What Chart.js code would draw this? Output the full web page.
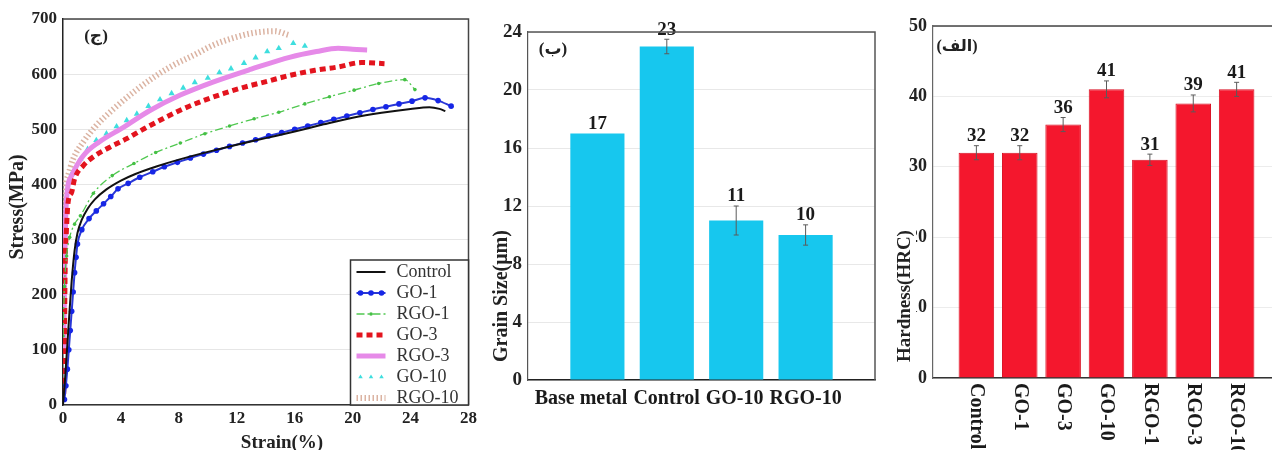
<!DOCTYPE html>
<html>
<head>
<meta charset="utf-8">
<script src="https://cdn.jsdelivr.net/npm/chart.js@4.4.1/dist/chart.umd.min.js"></script>
<style>
  html, body { margin: 0; padding: 0; background: #fff; }
  #wrap { position: relative; width: 1272px; height: 450px; overflow: hidden; background: #fff; }
  .panel { position: absolute; top: 0; height: 450px; overflow: hidden; }
  canvas { display: block; }
</style>
</head>
<body>
<div id="wrap">
  <div class="panel" style="left:0;width:480px"><canvas id="stress" width="480" height="460"></canvas></div>
  <div class="panel" style="left:480px;width:400px"><canvas id="grain" width="400" height="460"></canvas></div>
  <div class="panel" style="left:880px;width:392px"><canvas id="hard" width="410" height="460"></canvas></div>
</div>
<script>
// ---------- (ج) stress–strain curves ----------
const seriesNames = ['Control', 'GO-1', 'RGO-1', 'GO-3', 'RGO-3', 'GO-10', 'RGO-10'];

const controlStrain = [0, 0.15, 0.3, 0.45, 0.6, 0.8, 1.0, 1.3, 1.7, 2.2, 3.0, 4.0, 5.0, 6.5, 8.0, 10.0, 12.0, 14.0, 16.0, 18.0, 20.0, 22.0, 24.0, 25.3, 26.0, 26.4];
const controlStress = [0, 50, 110, 170, 225, 280, 312, 336, 356, 373, 391, 407, 419, 433, 445, 459, 472, 484, 496, 509, 521, 530, 537, 540, 537, 533];

const go1Strain = [0.1, 0.2, 0.3, 0.4, 0.5, 0.6, 0.7, 0.8, 0.9, 1.0, 1.3, 1.8, 2.3, 2.8, 3.3, 3.8, 4.5, 5.3, 6.2, 7.0, 7.9, 8.8, 9.7, 10.6, 11.5, 12.4, 13.3, 14.2, 15.1, 16.0, 16.9, 17.8, 18.7, 19.6, 20.5, 21.4, 22.3, 23.2, 24.1, 25.0, 25.9, 26.8];
const go1Stress = [10, 35, 65, 100, 135, 170, 205, 240, 268, 292, 318, 338, 352, 365, 378, 392, 402, 413, 423, 432, 440, 448, 455, 462, 469, 475, 481, 488, 494, 500, 506, 512, 518, 524, 530, 536, 541, 546, 551, 557, 552, 542];

const rgo1Strain = [0, 0.1, 0.25, 0.46, 0.8, 1.2, 2.1, 3.4, 4.9, 6.4, 8.1, 9.8, 11.5, 13.2, 14.9, 16.7, 18.4, 20.1, 21.8, 23.6, 24.3];
const rgo1Stress = [125, 215, 270, 304, 328, 343, 384, 416, 438, 458, 475, 492, 506, 519, 531, 546, 559, 571, 583, 590, 572];

const go3Strain = [0.05, 0.1, 0.15, 0.23, 0.35, 0.6, 0.8, 1.4, 2.2, 3.2, 4.4, 5.6, 6.9, 8.3, 9.7, 11.1, 12.6, 14.1, 15.7, 17.4, 19.0, 20.6, 22.2];
const go3Stress = [20, 120, 252, 313, 367, 386, 410, 434, 452, 467, 483, 501, 519, 537, 552, 565, 577, 587, 598, 607, 613, 621, 619];

const rgo3Strain = [0.05, 0.12, 0.23, 0.6, 1.4, 2.5, 4.2, 6.0, 8.1, 10.4, 13.0, 15.7, 17.5, 19.0, 20.0, 21.0];
const rgo3Stress = [100, 250, 367, 416, 452, 477, 504, 534, 562, 586, 609, 631, 641, 647, 645, 644];

const go10Strain = [0.03, 0.05, 0.07, 0.15, 0.35, 0.6, 1.2, 1.7, 2.3, 3.0, 3.7, 4.4, 5.1, 5.9, 6.7, 7.5, 8.3, 9.1, 10.0, 10.8, 11.6, 12.5, 13.3, 14.1, 14.9, 15.9, 16.7];
const go10Stress = [60, 120, 191, 313, 386, 419, 446, 464, 480, 492, 505, 516, 528, 542, 554, 565, 575, 585, 593, 603, 610, 620, 630, 641, 647, 656, 651];

const rgo10Strain = [0.02, 0.06, 0.12, 0.35, 0.7, 1.4, 2.3, 3.5, 4.9, 6.3, 7.6, 9.0, 10.4, 11.8, 13.2, 14.6, 15.6];
const rgo10Stress = [150, 280, 373, 416, 446, 477, 507, 537, 568, 595, 616, 634, 653, 666, 675, 678, 671];

// ---------- (ب) grain size ----------
const grainCategories = ['Base metal', 'Control', 'GO-10', 'RGO-10'];
const grainSize = [17, 23, 11, 10];
const grainError = [0, 0.5, 1.0, 0.7];

// ---------- (الف) hardness ----------
const hardnessCategories = ['Control', 'GO-1', 'GO-3', 'GO-10', 'RGO-1', 'RGO-3', 'RGO-10'];
const hardness = [32, 32, 36, 41, 31, 39, 41];
const hardnessError = [1.0, 1.0, 1.0, 1.2, 0.8, 1.2, 1.0];

// ---------- shared helpers ----------
const SERIF = '"Liberation Serif", "Times New Roman", "DejaVu Sans", serif';
Chart.defaults.font.family = SERIF;
Chart.defaults.color = '#222';

const pts = (xs, ys) => xs.map((x, i) => ({ x, y: ys[i] }));

function drawMark(ctx, style, x, y, r, color) {
  ctx.fillStyle = color;
  ctx.beginPath();
  if (style === 'triangle') {
    ctx.moveTo(x, y - r);
    ctx.lineTo(x + r * 0.87, y + r * 0.5);
    ctx.lineTo(x - r * 0.87, y + r * 0.5);
    ctx.closePath();
  } else {
    ctx.arc(x, y, r, 0, Math.PI * 2);
  }
  ctx.fill();
}

// top / right border lines of the plotting area
function framePlugin(color, width) {
  return {
    id: 'frame',
    afterDraw(chart) {
      const { ctx, chartArea: a } = chart;
      ctx.save();
      ctx.strokeStyle = color;
      ctx.lineWidth = width;
      ctx.beginPath();
      ctx.moveTo(a.left, a.top);
      ctx.lineTo(a.right, a.top);
      ctx.lineTo(a.right, a.bottom);
      ctx.stroke();
      ctx.restore();
    }
  };
}

// free text: axis titles and panel tags (positions relative to the chart area)
function textPlugin(itemsFn) {
  return {
    id: 'panelText',
    afterDraw(chart) {
      const { ctx, chartArea: a } = chart;
      itemsFn(a).forEach(t => {
        ctx.save();
        ctx.font = t.font;
        ctx.translate(t.x, t.y);
        if (t.rot) ctx.rotate(t.rot);
        ctx.textAlign = t.align || 'center';
        ctx.textBaseline = 'middle';
        if (t.bg) {
          const w = ctx.measureText(t.text).width;
          const x0 = t.align === 'left' ? 0 : -w / 2;
          ctx.fillStyle = t.bg;
          ctx.fillRect(x0 - 2, -t.bgHalf, w + 4, t.bgHalf * 2);
        }
        ctx.fillStyle = t.color || '#222';
        ctx.fillText(t.text, 0, 0);
        ctx.restore();
      });
    }
  };
}

// error bars and value labels on top of each bar
function barDecorPlugin(errors, font) {
  return {
    id: 'barDecor',
    afterDatasetsDraw(chart) {
      const { ctx } = chart;
      const ys = chart.scales.y;
      const ds = chart.data.datasets[0];
      const meta = chart.getDatasetMeta(0);
      ctx.save();
      meta.data.forEach((bar, i) => {
        const v = ds.data[i].y;
        const e = errors[i];
        let top = bar.y;
        if (e > 0) {
          const y1 = ys.getPixelForValue(v + e);
          const y2 = ys.getPixelForValue(v - e);
          ctx.strokeStyle = '#5b5b5b';
          ctx.lineWidth = 1;
          ctx.beginPath();
          ctx.moveTo(bar.x, y1); ctx.lineTo(bar.x, y2);
          ctx.moveTo(bar.x - 2.5, y1); ctx.lineTo(bar.x + 2.5, y1);
          ctx.moveTo(bar.x - 2.5, y2); ctx.lineTo(bar.x + 2.5, y2);
          ctx.stroke();
          top = Math.min(top, y1);
        }
        ctx.font = font;
        ctx.fillStyle = '#1a1a1a';
        ctx.textAlign = 'center';
        ctx.textBaseline = 'bottom';
        ctx.fillText(String(v), bar.x, top);
      });
      ctx.restore();
    }
  };
}

// category names under the bars (horizontal or turned to read downward)
function categoryLabelPlugin(categories, font, rotated) {
  return {
    id: 'catLabels',
    afterDraw(chart) {
      const { ctx, chartArea: a } = chart;
      const xs = chart.scales.x;
      ctx.save();
      ctx.font = font;
      ctx.fillStyle = '#1a1a1a';
      if (rotated) {
        categories.forEach((c, i) => {
          const px = xs.getPixelForValue(i + 1);
          ctx.save();
          ctx.translate(px, a.bottom + 5);
          ctx.rotate(Math.PI / 2);
          ctx.textAlign = 'left';
          ctx.textBaseline = 'middle';
          ctx.fillText(c, 0, 0);
          ctx.restore();
        });
      } else {
        // centre under each bar, then push labels left so neighbours never overlap
        const widths = categories.map(c => ctx.measureText(c).width);
        const centers = categories.map((c, i) => xs.getPixelForValue(i + 1));
        for (let i = categories.length - 2; i >= 0; i--) {
          const nextLeft = centers[i + 1] - widths[i + 1] / 2;
          const maxCenter = nextLeft - 6 - widths[i] / 2;
          if (centers[i] > maxCenter) centers[i] = maxCenter;
        }
        ctx.textAlign = 'center';
        ctx.textBaseline = 'top';
        categories.forEach((c, i) => {
          const cx = Math.max(centers[i], a.left + 4 + widths[i] / 2);
          ctx.fillText(c, cx, a.bottom + 9);
        });
      }
      ctx.restore();
    }
  };
}

// boxed legend in the lower right corner of the stress–strain plot
const legendMarks = { 'GO-1': 3, 'RGO-1': 1, 'GO-10': 3 };
const legendBoxPlugin = {
  id: 'legendBox',
  afterDraw(chart) {
    const { ctx, chartArea: a } = chart;
    const w = 118, h = 145;
    const x0 = a.right - w, y0 = a.bottom - h;
    ctx.save();
    ctx.fillStyle = '#fff';
    ctx.fillRect(x0, y0, w, h);
    ctx.strokeStyle = '#333';
    ctx.lineWidth = 1.5;
    ctx.strokeRect(x0, y0, w, h);
    chart.data.datasets.forEach((ds, i) => {
      const y = y0 + 12 + i * 21;
      const sx0 = x0 + 6, sx1 = x0 + 35;
      if (ds.showLine !== false) {
        ctx.save();
        ctx.strokeStyle = ds.borderColor;
        ctx.lineWidth = ds.borderWidth;
        ctx.setLineDash(ds.borderDash || []);
        ctx.beginPath();
        ctx.moveTo(sx0, y); ctx.lineTo(sx1, y);
        ctx.stroke();
        ctx.restore();
      }
      const n = legendMarks[ds.label] || 0;
      for (let k = 0; k < n; k++) {
        const mx = n === 1 ? (sx0 + sx1) / 2 : sx0 + 4 + k * 10.5;
        drawMark(ctx, ds.pointStyle || 'circle', mx, y, ds.pointStyle === 'triangle' ? 2.6 : Math.max(ds.pointRadius, 1.6), ds.pointBackgroundColor);
      }
      ctx.font = '18px ' + SERIF;
      ctx.fillStyle = '#333';
      ctx.textAlign = 'left';
      ctx.textBaseline = 'middle';
      ctx.fillText(ds.label, x0 + 46, y);
    });
    ctx.restore();
  }
};

const tickFont = (size) => ({ family: SERIF, size, weight: 'bold' });
const baseOptions = {
  responsive: false,
  animation: false,
  devicePixelRatio: 1,
  events: [],
};

// ---------- chart 1: stress vs strain ----------
const strainSeries = [
  [controlStrain, controlStress],
  [go1Strain, go1Stress],
  [rgo1Strain, rgo1Stress],
  [go3Strain, go3Stress],
  [rgo3Strain, rgo3Stress],
  [go10Strain, go10Stress],
  [rgo10Strain, rgo10Stress],
];
const seriesStyle = [
  { borderColor: '#111111', borderWidth: 2, pointRadius: 0 },
  { borderColor: '#2a38d6', borderWidth: 2, pointRadius: 2.8, pointBackgroundColor: '#1626e6', pointBorderWidth: 0 },
  { borderColor: '#50c850', borderWidth: 1.3, borderDash: [8, 3, 2, 3], pointRadius: 1.8, pointBackgroundColor: '#45c045', pointBorderWidth: 0 },
  { borderColor: '#e3141e', borderWidth: 5, borderDash: [6, 4], pointRadius: 0 },
  { borderColor: '#e68ae8', borderWidth: 5, pointRadius: 0 },
  { borderColor: '#3edede', showLine: false, pointStyle: 'triangle', pointRadius: 3.6, pointBackgroundColor: '#3edede', pointBorderWidth: 0 },
  { borderColor: '#dbb3a2', borderWidth: 6, borderDash: [1.5, 2.5], pointRadius: 0 },
];

new Chart(document.getElementById('stress'), {
  type: 'scatter',
  data: {
    datasets: seriesNames.map((name, i) => Object.assign({
      label: name,
      data: pts(strainSeries[i][0], strainSeries[i][1]),
      showLine: true,
      fill: false,
      cubicInterpolationMode: 'monotone',
      pointStyle: 'circle',
    }, seriesStyle[i]))
  },
  options: Object.assign({}, baseOptions, {
    layout: { padding: { left: 0, top: 19, right: 11, bottom: 0 } },
    plugins: { legend: { display: false }, tooltip: { enabled: false } },
    scales: {
      x: {
        type: 'linear', min: 0, max: 28,
        ticks: { stepSize: 4, font: tickFont(17), color: '#222', padding: 3, maxRotation: 0 },
        grid: { display: false, drawTicks: false },
        border: { color: '#333', width: 1.5 },
        afterFit(s) { s.height = 55; }
      },
      y: {
        min: 0, max: 700,
        ticks: { stepSize: 100, font: tickFont(17), color: '#222', padding: 6 },
        grid: { color: '#e6e6e6', drawTicks: false },
        border: { color: '#222', width: 1.5 },
        afterFit(s) { s.width = 63; }
      }
    }
  }),
  plugins: [
    framePlugin('#444', 1.5),
    legendBoxPlugin,
    textPlugin(a => [
      { text: 'Stress(MPa)', font: 'bold 20px ' + SERIF, x: 18, y: 207, rot: -Math.PI / 2 },
      { text: 'Strain(%)', font: 'bold 19px ' + SERIF, x: 282, y: 443 },
      { text: '(ج)', font: 'bold 17px ' + SERIF, x: a.left + 33, y: a.top + 18 },
    ])
  ]
});

// ---------- chart 2: grain size ----------
new Chart(document.getElementById('grain'), {
  type: 'bar',
  data: {
    datasets: [{
      data: grainCategories.map((c, i) => ({ x: i + 1, y: grainSize[i] })),
      backgroundColor: '#17c7ee',
      borderWidth: 0,
      barPercentage: 0.78,
      categoryPercentage: 1
    }]
  },
  options: Object.assign({}, baseOptions, {
    layout: { padding: { left: 0, top: 32, right: 5, bottom: 0 } },
    plugins: { legend: { display: false }, tooltip: { enabled: false } },
    scales: {
      x: {
        type: 'linear', min: 0, max: 5, offset: false,
        ticks: { display: false },
        grid: { display: false, drawTicks: false, offset: false },
        border: { color: '#222', width: 1.5 },
        afterFit(s) { s.height = 80; }
      },
      y: {
        min: 0, max: 24,
        ticks: { stepSize: 4, font: tickFont(19), color: '#222', padding: 6 },
        grid: { color: '#e8e8e8', drawTicks: false },
        border: { color: '#555', width: 1.2 },
        afterFit(s) { s.width = 48; }
      }
    }
  }),
  plugins: [
    framePlugin('#555', 1.5),
    barDecorPlugin(grainError, 'bold 19px ' + SERIF),
    categoryLabelPlugin(grainCategories, 'bold 20px ' + SERIF, false),
    textPlugin(a => [
      { text: 'Grain Size(μm)', font: 'bold 20px ' + SERIF, x: 22, y: 362, rot: -Math.PI / 2, align: 'left' },
      { text: '(ب)', font: 'bold 17px ' + SERIF, x: a.left + 25, y: a.top + 18 },
    ])
  ]
});

// ---------- chart 3: hardness ----------
new Chart(document.getElementById('hard'), {
  type: 'bar',
  data: {
    datasets: [{
      data: hardnessCategories.map((c, i) => ({ x: i + 1, y: hardness[i] })),
      backgroundColor: '#f4172d',
      borderColor: '#d80f22',
      borderWidth: 1,
      barPercentage: 0.82,
      categoryPercentage: 1
    }]
  },
  options: Object.assign({}, baseOptions, {
    layout: { padding: { left: 0, top: 26, right: 10, bottom: 0 } },
    plugins: { legend: { display: false }, tooltip: { enabled: false } },
    scales: {
      x: {
        type: 'linear', min: 0, max: 8, offset: false,
        ticks: { display: false },
        grid: { display: false, drawTicks: false, offset: false },
        border: { color: '#333', width: 1.5 },
        afterFit(s) { s.height = 82; }
      },
      y: {
        min: 0, max: 50,
        ticks: { stepSize: 10, font: tickFont(18), color: '#222', padding: 6 },
        grid: { color: '#ececec', drawTicks: false },
        border: { color: '#666', width: 1.2 },
        afterFit(s) { s.width = 53; }
      }
    }
  }),
  plugins: [
    framePlugin('#444', 1.5),
    barDecorPlugin(hardnessError, 'bold 19px ' + SERIF),
    categoryLabelPlugin(hardnessCategories, 'bold 20px ' + SERIF, true),
    textPlugin(a => [
      { text: 'Hardness(HRC)', font: 'bold 19px ' + SERIF, x: 25, y: 362, rot: -Math.PI / 2, align: 'left', bg: '#fff', bgHalf: 11 },
      { text: '(الف)', font: 'bold 16px ' + SERIF, x: a.left + 24, y: a.top + 21 },
    ])
  ]
});
</script>
</body>
</html>
